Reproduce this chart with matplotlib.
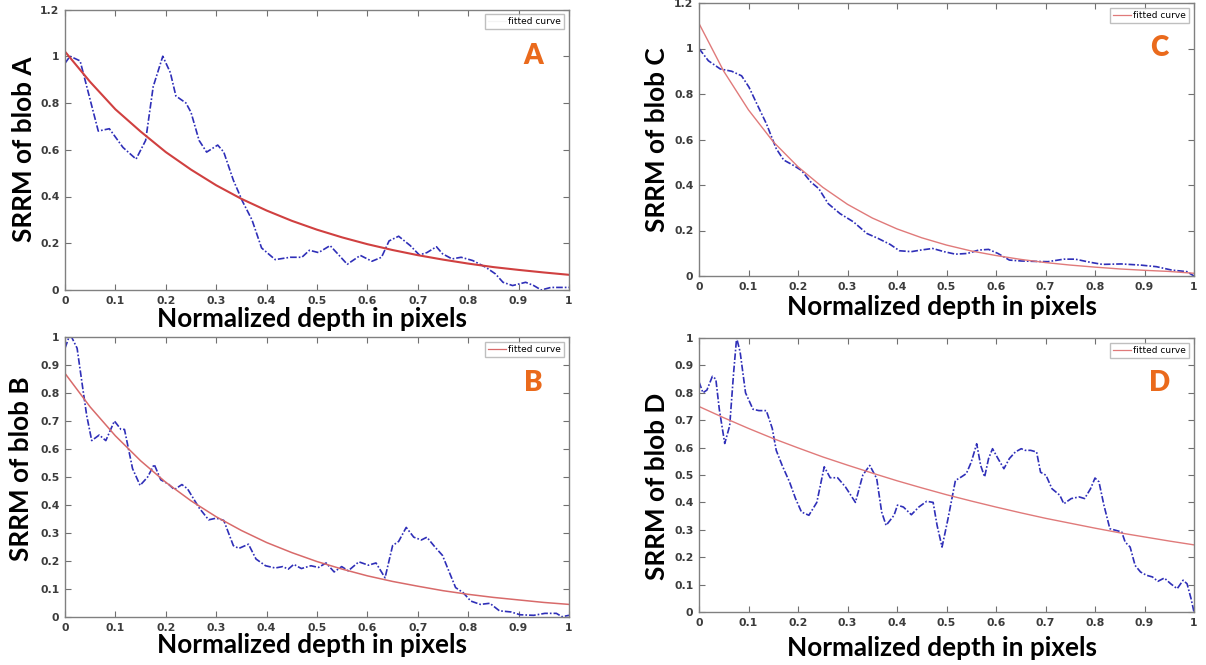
import numpy as np
import matplotlib
matplotlib.use("Agg")
from matplotlib import pyplot as plt
from matplotlib.lines import Line2D
from matplotlib.ticker import FuncFormatter

# blob A (measured SRRM)
a_x = [0, 0.01, 0.03, 0.066, 0.088, 0.115, 0.141, 0.16, 0.175, 0.194, 0.209, 0.22, 0.24, 0.25,
       0.266, 0.281, 0.303, 0.315, 0.334, 0.352, 0.371, 0.39, 0.417, 0.447, 0.47, 0.485, 0.503,
       0.526, 0.541, 0.56, 0.586, 0.609, 0.628, 0.643, 0.662, 0.685, 0.703, 0.718, 0.737, 0.749,
       0.768, 0.786, 0.809, 0.835, 0.854, 0.869, 0.888, 0.914, 0.93, 0.945, 0.964, 1.0]
a_y = [0.97, 1.0, 0.98, 0.68, 0.69, 0.61, 0.56, 0.64, 0.87, 1.0, 0.93, 0.83, 0.80, 0.76,
       0.64, 0.59, 0.62, 0.59, 0.47, 0.38, 0.30, 0.18, 0.13, 0.14, 0.14, 0.17, 0.16,
       0.19, 0.155, 0.11, 0.148, 0.123, 0.14, 0.21, 0.23, 0.19, 0.15, 0.16, 0.185, 0.155,
       0.133, 0.14, 0.126, 0.097, 0.069, 0.033, 0.019, 0.033, 0.019, 0.0, 0.011, 0.011]

# blob B
b_x = [0, 0.008, 0.013, 0.024, 0.035, 0.043, 0.053, 0.068, 0.081, 0.098, 0.111, 0.118, 0.134,
       0.149, 0.164, 0.177, 0.19, 0.205, 0.217, 0.232, 0.243, 0.266, 0.285, 0.3, 0.315, 0.334,
       0.345, 0.364, 0.379, 0.398, 0.417, 0.432, 0.443, 0.454, 0.469, 0.488, 0.503, 0.518, 0.534,
       0.549, 0.562, 0.583, 0.602, 0.617, 0.635, 0.65, 0.662, 0.677, 0.692, 0.707, 0.718, 0.734,
       0.749, 0.76, 0.775, 0.79, 0.805, 0.824, 0.843, 0.862, 0.885, 0.903, 0.93, 0.952, 0.975,
       0.986, 1.0]
b_y = [0.96, 1.0, 1.0, 0.96, 0.82, 0.72, 0.63, 0.65, 0.63, 0.70, 0.67, 0.67, 0.53,
       0.47, 0.50, 0.545, 0.49, 0.475, 0.455, 0.473, 0.458, 0.39, 0.347, 0.353, 0.345, 0.255,
       0.245, 0.26, 0.207, 0.183, 0.175, 0.18, 0.171, 0.188, 0.173, 0.183, 0.177, 0.193, 0.161,
       0.18, 0.165, 0.197, 0.185, 0.193, 0.14, 0.255, 0.27, 0.32, 0.285, 0.275, 0.285, 0.25,
       0.22, 0.171, 0.105, 0.087, 0.057, 0.045, 0.049, 0.022, 0.018, 0.008, 0.006, 0.013, 0.013,
       0.001, 0.006]

# blob C
c_x = [0, 0.019, 0.043, 0.066, 0.086, 0.101, 0.117, 0.136, 0.156, 0.171, 0.191, 0.207, 0.226,
       0.242, 0.261, 0.285, 0.312, 0.339, 0.362, 0.386, 0.405, 0.429, 0.448, 0.472, 0.495, 0.518,
       0.542, 0.565, 0.585, 0.604, 0.627, 0.651, 0.682, 0.705, 0.737, 0.76, 0.791, 0.815, 0.853,
       0.892, 0.924, 0.955, 0.986, 1.0]
c_y = [1.0, 0.946, 0.91, 0.90, 0.88, 0.83, 0.756, 0.67, 0.56, 0.51, 0.486, 0.464, 0.413,
       0.384, 0.318, 0.274, 0.238, 0.187, 0.165, 0.139, 0.111, 0.107, 0.114, 0.121, 0.107, 0.096,
       0.099, 0.114, 0.117, 0.099, 0.07, 0.066, 0.064, 0.063, 0.074, 0.074, 0.06, 0.051, 0.053,
       0.048, 0.041, 0.026, 0.019, 0.0]

# blob D
d_x = [0, 0.008, 0.016, 0.027, 0.034, 0.041, 0.052, 0.062, 0.07, 0.076, 0.083, 0.094, 0.109,
       0.121, 0.136, 0.148, 0.156, 0.168, 0.183, 0.195, 0.207, 0.222, 0.238, 0.253, 0.265, 0.28,
       0.296, 0.316, 0.331, 0.345, 0.359, 0.369, 0.378, 0.394, 0.401, 0.413, 0.429, 0.444, 0.46,
       0.473, 0.481, 0.491, 0.503, 0.518, 0.53, 0.54, 0.55, 0.561, 0.569, 0.577, 0.585, 0.593,
       0.604, 0.616, 0.627, 0.639, 0.651, 0.659, 0.67, 0.682, 0.69, 0.701, 0.713, 0.729, 0.737,
       0.752, 0.768, 0.779, 0.791, 0.8, 0.808, 0.818, 0.83, 0.842, 0.854, 0.861, 0.871, 0.881,
       0.892, 0.904, 0.916, 0.927, 0.94, 0.953, 0.966, 0.978, 0.986, 0.994, 1.0]
d_y = [0.84, 0.80, 0.81, 0.86, 0.85, 0.74, 0.615, 0.68, 0.875, 1.0, 0.95, 0.80, 0.74,
       0.735, 0.735, 0.67, 0.59, 0.535, 0.474, 0.414, 0.365, 0.353, 0.40, 0.53, 0.49, 0.49,
       0.456, 0.40, 0.50, 0.535, 0.487, 0.365, 0.316, 0.353, 0.39, 0.383, 0.355, 0.383, 0.404,
       0.40, 0.316, 0.237, 0.34, 0.48, 0.493, 0.505, 0.547, 0.614, 0.535, 0.493, 0.56, 0.596,
       0.56, 0.523, 0.56, 0.584, 0.596, 0.59, 0.59, 0.584, 0.51, 0.499, 0.45, 0.426, 0.395,
       0.414, 0.42, 0.414, 0.45, 0.489, 0.475, 0.39, 0.304, 0.298, 0.292, 0.255, 0.237, 0.17,
       0.146, 0.134, 0.128, 0.112, 0.124, 0.103, 0.085, 0.116, 0.103, 0.049, 0.0]

# fitted curves, read every 0.05
fit_x = [0, 0.05, 0.1, 0.15, 0.2, 0.25, 0.3, 0.35, 0.4, 0.45, 0.5,
         0.55, 0.6, 0.65, 0.7, 0.75, 0.8, 0.85, 0.9, 0.95, 1.0]
fit_a = [1.02, 0.89, 0.773, 0.678, 0.59, 0.515, 0.448, 0.39, 0.34, 0.296, 0.258,
         0.225, 0.196, 0.171, 0.149, 0.13, 0.113, 0.098, 0.086, 0.075, 0.065]
fit_b = [0.87, 0.75, 0.647, 0.558, 0.481, 0.415, 0.358, 0.309, 0.266, 0.23, 0.198,
         0.171, 0.147, 0.127, 0.11, 0.094, 0.081, 0.07, 0.061, 0.052, 0.045]
fit_c = [1.11, 0.90, 0.73, 0.59, 0.48, 0.39, 0.315, 0.255, 0.207, 0.168, 0.136,
         0.11, 0.09, 0.073, 0.059, 0.048, 0.039, 0.031, 0.025, 0.02, 0.012]
fit_d = [0.75, 0.709, 0.67, 0.633, 0.599, 0.566, 0.536, 0.507, 0.479, 0.453, 0.428,
         0.405, 0.383, 0.362, 0.342, 0.324, 0.306, 0.289, 0.274, 0.259, 0.245]

W, H = 1206, 665
LABEL_FONT = ['Lato', 'DejaVu Sans']
BLUE = '#2f2fb8'
ORANGE = '#ea6a1c'


def fmt(v, pos):
    return '%g' % round(v, 2)


def make_panel(fig, box, mx, my, fx, fy, letter, ymax, ystep, xlab_y, ylab_x, ylab_y,
               red, red_lw, legend_line):
    # box = left, top, right, bottom in pixels
    l, t, r, b = box
    ax = fig.add_axes([l / W, 1 - b / H, (r - l) / W, (b - t) / H])
    ax.plot(mx, my, color=BLUE, lw=1.2, dashes=(4, 1.2, 1, 1.2))
    ax.plot(fx, fy, '-', color=red, lw=red_lw)
    ax.set_xlim(0, 1)
    ax.set_ylim(0, ymax)
    ax.set_xticks(np.arange(0, 1.01, 0.1))
    ax.set_yticks(np.arange(0, ymax + 0.001, ystep))
    ax.xaxis.set_major_formatter(FuncFormatter(fmt))
    ax.yaxis.set_major_formatter(FuncFormatter(fmt))
    ax.tick_params(direction='in', length=4, width=0.8, color='#707070',
                   top=True, right=True, labelsize=7.8, labelcolor='#3c3c3c', pad=4)
    for lab in ax.get_xticklabels() + ax.get_yticklabels():
        lab.set_fontweight('bold')
    for s in ax.spines.values():
        s.set_color('#808080')
        s.set_linewidth(1.0)

    ax.set_xlabel('Normalized depth in pixels', family=LABEL_FONT, fontweight='bold',
                  fontsize=18.8, va='center')
    ax.xaxis.set_label_coords(0.49, xlab_y)
    ax.set_ylabel('SRRM of blob ' + letter, family=LABEL_FONT, fontweight='bold',
                  fontsize=18.8, va='center')
    ax.yaxis.set_label_coords(ylab_x, ylab_y)

    h = Line2D([], [], color=legend_line, lw=0.9)
    ax.legend([h], ['fitted curve'], loc='upper right', fontsize=6.5, frameon=True,
              fancybox=False, edgecolor='#b0b0b0', handlelength=2.0, handletextpad=0.3,
              borderpad=0.35, borderaxespad=0.5)
    ax.text(0.93, 0.835, letter, transform=ax.transAxes, ha='center', va='center',
            color=ORANGE, fontsize=20, fontweight='heavy', family=LABEL_FONT)
    return ax


def main():
    fig = plt.figure(figsize=(W / 100, H / 100), dpi=100)
    make_panel(fig, (65, 9.5, 569, 290), a_x, a_y, fit_x, fit_a, 'A', 1.2, 0.2,
               -0.103, -0.081, 0.5, '#d04040', 1.5, '#f4f4f4')
    make_panel(fig, (699, 3, 1194, 276), c_x, c_y, fit_x, fit_c, 'C', 1.2, 0.2,
               -0.114, -0.085, 0.5, '#e07a7a', 1.0, '#e07a7a')
    make_panel(fig, (65, 337, 569, 617), b_x, b_y, fit_x, fit_b, 'B', 1.0, 0.1,
               -0.1, -0.088, 0.53, '#d86a6a', 1.1, '#d86a6a')
    make_panel(fig, (699, 338, 1194, 612), d_x, d_y, fit_x, fit_d, 'D', 1.0, 0.1,
               -0.131, -0.085, 0.46, '#e07a7a', 1.0, '#e07a7a')
    fig.savefig('out.png', dpi=100)


if __name__ == "__main__":
    main()
